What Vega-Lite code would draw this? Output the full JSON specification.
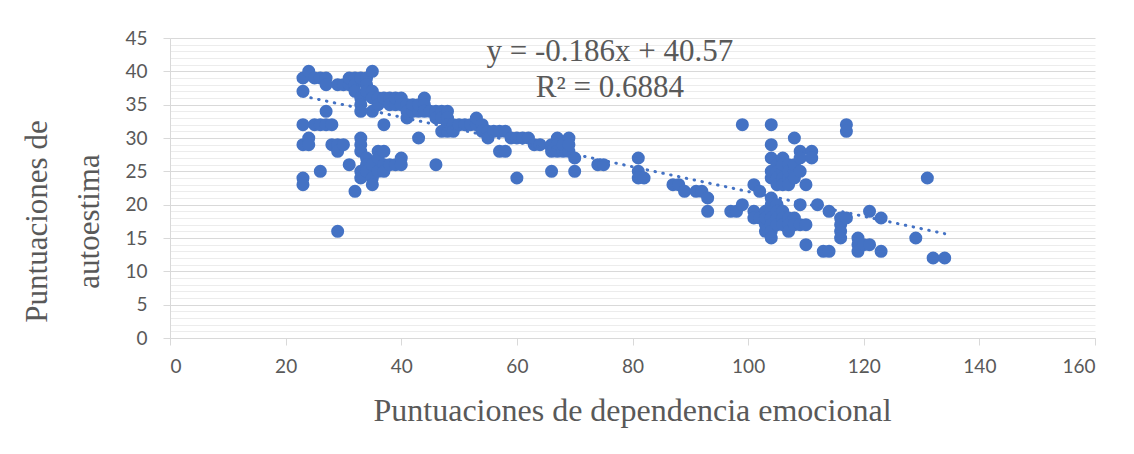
{
  "$schema": "https://vega.github.io/schema/vega-lite/v6.json",
  "width": 925,
  "height": 300,
  "autosize": {"type": "none"},
  "padding": {"left": 170, "top": 38, "right": 39, "bottom": 116},
  "background": "white",
  "config": {"view": {"stroke": null}},
  "datasets": {
    "pts": [
      {"x":23,"y":39},{"x":23,"y":37},{"x":23,"y":32},{"x":23,"y":29},{"x":23,"y":24},{"x":23,"y":23},
      {"x":24,"y":40},{"x":24,"y":30},{"x":24,"y":29},
      {"x":25,"y":39},{"x":25,"y":32},
      {"x":26,"y":25},{"x":26,"y":32},{"x":26,"y":39},
      {"x":27,"y":39},{"x":27,"y":38},{"x":27,"y":34},{"x":27,"y":32},
      {"x":28,"y":32},{"x":28,"y":29},
      {"x":29,"y":38},{"x":29,"y":29},{"x":29,"y":28},{"x":29,"y":16},
      {"x":30,"y":38},{"x":30,"y":29},
      {"x":31,"y":38},{"x":31,"y":39},{"x":31,"y":26},
      {"x":32,"y":39},{"x":32,"y":38},{"x":32,"y":37},{"x":32,"y":22},
      {"x":33,"y":39},{"x":33,"y":36},{"x":33,"y":35},{"x":33,"y":34},{"x":33,"y":30},{"x":33,"y":29},{"x":33,"y":28},{"x":33,"y":25},{"x":33,"y":24},
      {"x":34,"y":39},{"x":34,"y":38},{"x":34,"y":37},{"x":34,"y":27},{"x":34,"y":26},{"x":34,"y":25},
      {"x":35,"y":40},{"x":35,"y":37},{"x":35,"y":36},{"x":35,"y":34},{"x":35,"y":24},{"x":35,"y":23},{"x":35,"y":26},
      {"x":36,"y":36},{"x":36,"y":28},{"x":36,"y":27},{"x":36,"y":25},{"x":36,"y":35},
      {"x":37,"y":32},{"x":37,"y":28},{"x":37,"y":26},{"x":37,"y":25},{"x":37,"y":36},
      {"x":38,"y":36},{"x":38,"y":26},{"x":38,"y":35},
      {"x":39,"y":35},{"x":39,"y":26},{"x":39,"y":36},
      {"x":40,"y":36},{"x":40,"y":35},{"x":40,"y":27},{"x":40,"y":26},
      {"x":41,"y":35},{"x":41,"y":33},{"x":41,"y":34},
      {"x":42,"y":34},{"x":42,"y":35},
      {"x":43,"y":30},{"x":43,"y":34},{"x":43,"y":35},
      {"x":44,"y":36},{"x":44,"y":35},{"x":44,"y":34},
      {"x":45,"y":34},
      {"x":46,"y":34},{"x":46,"y":26},{"x":46,"y":33},
      {"x":47,"y":34},{"x":47,"y":33},{"x":47,"y":31},
      {"x":48,"y":34},{"x":48,"y":33},{"x":48,"y":31},{"x":48,"y":32},
      {"x":49,"y":32},{"x":49,"y":31},
      {"x":50,"y":32},{"x":51,"y":32},{"x":52,"y":32},
      {"x":53,"y":32},{"x":53,"y":33},
      {"x":54,"y":32},{"x":54,"y":31},
      {"x":55,"y":31},{"x":55,"y":30},
      {"x":56,"y":31},
      {"x":57,"y":31},{"x":57,"y":28},
      {"x":58,"y":31},{"x":58,"y":28},
      {"x":59,"y":30},
      {"x":60,"y":30},{"x":60,"y":24},
      {"x":61,"y":30},{"x":62,"y":30},
      {"x":63,"y":29},{"x":64,"y":29},
      {"x":66,"y":29},{"x":66,"y":28},{"x":66,"y":25},
      {"x":67,"y":30},{"x":67,"y":29},{"x":67,"y":28},
      {"x":68,"y":28},{"x":68,"y":29},
      {"x":69,"y":30},{"x":69,"y":28},{"x":69,"y":29},
      {"x":70,"y":27},{"x":70,"y":25},
      {"x":74,"y":26},{"x":75,"y":26},
      {"x":81,"y":27},{"x":81,"y":25},{"x":81,"y":24},{"x":82,"y":24},
      {"x":87,"y":23},{"x":88,"y":23},{"x":89,"y":22},{"x":91,"y":22},{"x":92,"y":22},{"x":93,"y":21},{"x":93,"y":19},
      {"x":97,"y":19},{"x":98,"y":19},{"x":99,"y":32},{"x":99,"y":20},
      {"x":101,"y":23},{"x":101,"y":19},{"x":101,"y":18},
      {"x":102,"y":22},{"x":102,"y":18},
      {"x":103,"y":16},{"x":103,"y":17},{"x":103,"y":19},{"x":103,"y":18},
      {"x":104,"y":32},{"x":104,"y":29},{"x":104,"y":27},{"x":104,"y":24},{"x":104,"y":25},{"x":104,"y":21},{"x":104,"y":20},{"x":104,"y":19},{"x":104,"y":18},{"x":104,"y":17},{"x":104,"y":16},{"x":104,"y":15},
      {"x":105,"y":26},{"x":105,"y":25},{"x":105,"y":24},{"x":105,"y":20},{"x":105,"y":19},{"x":105,"y":18},{"x":105,"y":17},{"x":105,"y":23},
      {"x":106,"y":27},{"x":106,"y":25},{"x":106,"y":24},{"x":106,"y":23},{"x":106,"y":19},{"x":106,"y":18},{"x":106,"y":17},{"x":106,"y":26},
      {"x":107,"y":26},{"x":107,"y":24},{"x":107,"y":23},{"x":107,"y":18},{"x":107,"y":17},{"x":107,"y":16},{"x":107,"y":25},
      {"x":108,"y":30},{"x":108,"y":25},{"x":108,"y":24},{"x":108,"y":18},{"x":108,"y":17},{"x":108,"y":26},
      {"x":109,"y":28},{"x":109,"y":27},{"x":109,"y":25},{"x":109,"y":20},{"x":109,"y":17},
      {"x":110,"y":23},{"x":110,"y":17},{"x":110,"y":14},
      {"x":111,"y":28},{"x":111,"y":27},
      {"x":112,"y":20},{"x":113,"y":13},{"x":114,"y":13},{"x":114,"y":19},
      {"x":116,"y":18},{"x":116,"y":17},{"x":116,"y":16},{"x":116,"y":15},
      {"x":117,"y":32},{"x":117,"y":31},{"x":117,"y":18},
      {"x":119,"y":15},{"x":119,"y":14},{"x":119,"y":13},
      {"x":120,"y":14},
      {"x":121,"y":19},{"x":121,"y":14},
      {"x":123,"y":18},{"x":123,"y":13},
      {"x":129,"y":15},{"x":131,"y":24},{"x":132,"y":12},{"x":134,"y":12}
    ],
    "trend": [{"x": 23, "y": 36.29}, {"x": 134, "y": 15.65}],
    "eq": [
      {"x": 76.1, "y": 41.55, "t": "y = -0.186x + 40.57"},
      {"x": 76.1, "y": 36.15, "t": "R² = 0.6884"}
    ]
  },
  "encoding": {
    "x": {
      "field": "x", "type": "quantitative",
      "scale": {"domain": [0, 160], "nice": false, "zero": false},
      "axis": {
        "values": [0, 20, 40, 60, 80, 100, 120, 140, 160],
        "grid": false,
        "domainColor": "#d9d9d9",
        "tickColor": "#d9d9d9",
        "tickSize": 7,
        "labelFont": "Lato",
        "labelFontSize": 19,
        "labelColor": "#595959",
        "labelPadding": 12,
        "title": "Puntuaciones de dependencia emocional",
        "titleFont": "Liberation Serif",
        "titleFontSize": 32,
        "titleFontWeight": "normal",
        "titleColor": "#595959",
        "titleBaseline": "alphabetic",
        "titleX": 462,
        "titleY": 82
      }
    },
    "y": {
      "field": "y", "type": "quantitative",
      "scale": {"domain": [0, 45], "nice": false, "zero": false},
      "axis": {
        "values": [0,1,2,3,4,5,6,7,8,9,10,11,12,13,14,15,16,17,18,19,20,21,22,23,24,25,26,27,28,29,30,31,32,33,34,35,36,37,38,39,40,41,42,43,44,45],
        "labelExpr": "datum.value % 5 === 0 ? datum.label : ''",
        "labelOverlap": false,
        "grid": true,
        "gridColor": {"condition": {"test": "datum.value % 5 === 0", "value": "#d9d9d9"}, "value": "#ececec"},
        "gridWidth": 1,
        "domainColor": "#d9d9d9",
        "tickColor": "#d9d9d9",
        "tickOpacity": {"condition": {"test": "datum.value % 5 === 0", "value": 1}, "value": 0},
        "tickSize": 7,
        "labelFont": "Lato",
        "labelFontSize": 19,
        "labelColor": "#595959",
        "labelPadding": 16,
        "title": ["Puntuaciones de", "autoestima"],
        "titleFont": "Liberation Serif",
        "titleFontSize": 31,
        "titleFontWeight": "normal",
        "titleColor": "#595959",
        "titleLineHeight": 52,
        "titleAngle": -90,
        "titleBaseline": "bottom",
        "titleX": -117,
        "titleY": 183
      }
    }
  },
  "layer": [
    {
      "data": {"name": "pts"},
      "mark": {"type": "point", "filled": true, "shape": "circle", "size": 170, "opacity": 1, "color": "#4472C4"}
    },
    {
      "data": {"name": "trend"},
      "mark": {"type": "line", "color": "#4472C4", "strokeWidth": 3, "strokeDash": [0.5, 7.5], "strokeCap": "round"}
    },
    {
      "data": {"name": "eq"},
      "mark": {"type": "text", "font": "Liberation Serif", "fontSize": 31, "color": "#595959", "align": "center", "baseline": "alphabetic"},
      "encoding": {"text": {"field": "t"}}
    }
  ]
}
